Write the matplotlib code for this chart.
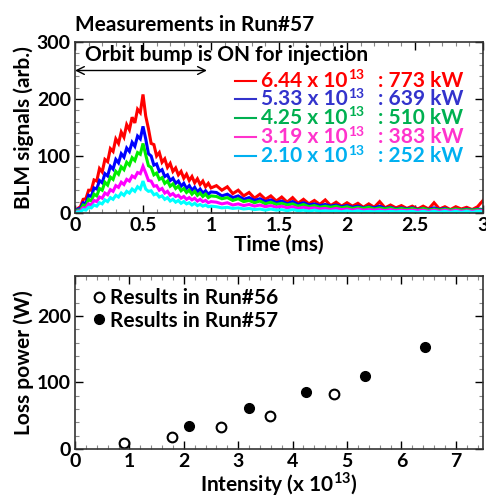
import numpy as np
import matplotlib
matplotlib.use("Agg")
import matplotlib.pyplot as plt
from matplotlib.ticker import MultipleLocator

plt.rcParams['font.family'] = ['Lato', 'DejaVu Sans']
plt.rcParams['font.weight'] = 'bold'
plt.rcParams['mathtext.fontset'] = 'custom'
plt.rcParams['mathtext.rm'] = 'Lato:bold'
plt.rcParams['mathtext.bf'] = 'Lato:bold'

# ---------------- data: top panel (BLM signals) ----------------
t_early = np.round(np.arange(0, 51) * 0.02, 2)          # 0.00 .. 1.00 ms
t_late = np.round(1.0 + np.arange(1, 51) * 0.04, 2)     # 1.04 .. 3.00 ms
time_ms = np.concatenate([t_early, t_late])

red_early = [0, 8, 11, 24, 25, 40, 40, 58, 56, 78, 72, 94, 90, 113, 108, 130, 122, 142, 133, 155,
             146, 168, 158, 182, 176, 208, 170, 148, 122, 120, 100, 106, 89, 95, 80, 87, 73, 79, 67, 73,
             61, 68, 57, 64, 53, 60, 50, 56, 46, 52, 44]
red_late = [48, 40, 46, 34, 40, 30, 36, 26, 33, 24, 30, 21, 28, 19, 27, 17, 24, 16, 22, 15,
            23, 13, 19, 12, 18, 12, 17, 10, 16, 10, 20, 9, 14, 9, 13, 8, 12, 7, 12, 7,
            18, 7, 11, 6, 11, 7, 10, 6, 11, 22]
blue_early = [0, 7, 8, 18, 17, 31, 29, 44, 42, 57, 53, 69, 65, 82, 77, 94, 88, 104, 98, 114,
              108, 124, 117, 135, 130, 152, 130, 104, 100, 84, 86, 73, 76, 64, 67, 57, 61, 52, 56, 47,
              52, 43, 48, 40, 45, 37, 42, 35, 39, 33, 37]
blue_late = [36, 30, 33, 27, 30, 24, 27, 22, 25, 20, 23, 18, 21, 16, 20, 15, 18, 14, 16, 13,
             15, 12, 14, 11, 13, 10, 12, 9, 11, 9, 12, 8, 10, 7, 9, 7, 9, 6, 8, 6,
             9, 6, 8, 5, 7, 5, 7, 5, 7, 6]
green_early = [0, 5, 5, 14, 12, 24, 21, 33, 30, 43, 40, 54, 49, 63, 59, 73, 68, 81, 76, 89,
               84, 97, 92, 106, 103, 122, 102, 83, 80, 67, 70, 59, 62, 52, 56, 47, 51, 43, 47, 39,
               43, 36, 40, 33, 38, 31, 35, 29, 33, 27, 30]
green_late = [29, 25, 27, 22, 25, 20, 22, 18, 21, 16, 19, 15, 17, 14, 16, 12, 15, 11, 13, 10,
              12, 10, 12, 9, 11, 8, 10, 8, 10, 7, 9, 7, 9, 6, 8, 6, 8, 5, 8, 5,
              7, 5, 7, 5, 7, 5, 6, 5, 6, 5]
magenta_early = [0, 3, 4, 9, 8, 16, 14, 22, 20, 28, 26, 35, 32, 41, 38, 48, 45, 54, 50, 59,
                 56, 65, 62, 71, 69, 82, 70, 57, 56, 47, 48, 40, 43, 35, 38, 31, 34, 29, 31, 26,
                 29, 24, 27, 23, 26, 21, 24, 20, 22, 18, 20]
magenta_late = [19, 16, 18, 14, 16, 13, 15, 12, 14, 11, 13, 10, 12, 9, 11, 8, 10, 8, 9, 7,
                8, 6, 8, 6, 7, 5, 7, 5, 6, 5, 6, 4, 6, 4, 5, 4, 5, 4, 5, 3,
                5, 3, 5, 3, 5, 3, 4, 3, 4, 4]
cyan_early = [0, 2, 2, 6, 5, 10, 9, 14, 12, 18, 16, 23, 20, 27, 24, 31, 28, 35, 31, 38,
              35, 42, 38, 46, 42, 56, 42, 38, 39, 32, 34, 28, 30, 24, 27, 21, 24, 19, 22, 17,
              20, 16, 18, 14, 17, 13, 15, 12, 14, 11, 12]
cyan_late = [11, 9, 10, 8, 9, 7, 8, 6, 7, 5, 7, 5, 6, 4, 6, 4, 5, 3, 5, 3,
             4, 3, 4, 2, 4, 2, 4, 2, 3, 2, 3, 2, 3, 2, 3, 2, 3, 1, 3, 1,
             3, 1, 3, 1, 3, 1, 3, 1, 3, 2]

series_signals = [red_early + red_late, blue_early + blue_late, green_early + green_late,
                  magenta_early + magenta_late, cyan_early + cyan_late]
intensity_labels = ["6.44", "5.33", "4.25", "3.19", "2.10"]
power_labels = ["773", "639", "510", "383", "252"]
line_colors = ["#ff0000", "#0000ff", "#00ee00", "#ff00ff", "#00ffff"]
text_colors = ["#ff0000", "#3333cc", "#00b050", "#ff33cc", "#00b0f0"]

# ---------------- data: bottom panel (loss power) ----------------
run56_intensity = [0.90, 1.79, 2.68, 3.58, 4.77]
run56_loss = [9, 18, 33, 49, 83]
run57_intensity = [2.10, 3.19, 4.25, 5.33, 6.44]
run57_loss = [35, 61, 86, 109, 154]

# ---------------- figure ----------------
W, H = 486, 497
fig = plt.figure(figsize=(W / 100, H / 100), dpi=100)

def frac(l, r, top, bot):
    return [l / W, 1 - bot / H, (r - l) / W, (bot - top) / H]

ax1 = fig.add_axes(frac(75, 483, 42, 213))
ax2 = fig.add_axes(frac(75, 483, 276, 449))

FS = 15
for ax in (ax1, ax2):
    ax.tick_params(which='both', direction='in', top=True, right=True, labelsize=14, pad=3)
    ax.tick_params(which='major', length=6, width=1)
    ax.tick_params(which='minor', length=3, width=0.8, color='#888888')
    for sp in ax.spines.values():
        sp.set_linewidth(1.2)
        sp.set_color('#333333')

# top panel
for vals, c in zip(series_signals, line_colors):
    ax1.plot(time_ms, vals, color=c, lw=2.2, solid_joinstyle='miter')
ax1.set_xlim(0, 3)
ax1.set_ylim(0, 300)
ax1.set_xticks([0, 0.5, 1, 1.5, 2, 2.5, 3])
ax1.set_xticklabels(["0", "0.5", "1", "1.5", "2", "2.5", "3"])
ax1.set_yticks([0, 100, 200, 300])
ax1.xaxis.set_minor_locator(MultipleLocator(0.1))
ax1.yaxis.set_minor_locator(MultipleLocator(20))
ax1.set_xlabel("Time (ms)", fontsize=FS, fontweight='bold', labelpad=0)
ax1.set_ylabel("BLM signals (arb.)", fontsize=FS, fontweight='bold', labelpad=2)
ax1.set_title("Measurements in Run#57", fontsize=FS, fontweight='bold', loc='left', pad=8)

ax1.text(0.07, 277, "Orbit bump is ON for injection", fontsize=FS, fontweight='bold',
         va='center', ha='left')
ax1.annotate("", xy=(0.0, 250), xytext=(0.97, 250),
             arrowprops=dict(arrowstyle='<->', lw=1.0, color='black',
                             shrinkA=0, shrinkB=0, mutation_scale=14))

legend_y = [232, 200, 167, 133, 100]
for yv, ilab, plab, tc in zip(legend_y, intensity_labels, power_labels, text_colors):
    ax1.plot([1.18, 1.33], [yv, yv], color=tc, lw=1.5)
    t1 = ax1.text(1.37, yv, ilab + " x 10", color=tc, fontsize=FS,
                  fontweight='bold', va='center', ha='left')
    ax1.annotate("13", xy=(1.0, 1.0), xycoords=t1, xytext=(0, 1), textcoords='offset points',
                 color=tc, fontsize=10, fontweight='bold', va='top', ha='left')
    ax1.text(2.23, yv, ": " + plab + " kW", color=tc, fontsize=FS,
             fontweight='bold', va='center', ha='left')

# bottom panel
ax2.plot(run56_intensity, run56_loss, 'o', mfc='white', mec='black', mew=1.5, ms=7,
         linestyle='none', label='Results in Run#56')
ax2.plot(run57_intensity, run57_loss, 'o', mfc='black', mec='black', ms=7,
         linestyle='none', label='Results in Run#57')
ax2.set_xlim(0, 7.5)
ax2.set_ylim(0, 260)
ax2.set_xticks(range(0, 8))
ax2.set_yticks([0, 100, 200])
ax2.xaxis.set_minor_locator(MultipleLocator(0.2))
ax2.yaxis.set_minor_locator(MultipleLocator(20))
ax2.set_xlabel(r"Intensity (x 10$^{\mathbf{13}}$)", fontsize=FS, fontweight='bold', labelpad=0)
ax2.set_ylabel("Loss power (W)", fontsize=FS, fontweight='bold', labelpad=2)
leg = ax2.legend(loc='upper left', frameon=False, handletextpad=0.0,
                 handlelength=1.1, borderaxespad=0.2, labelspacing=0.1,
                 prop={'weight': 'bold', 'size': FS})

fig.savefig("out.png", dpi=100)
